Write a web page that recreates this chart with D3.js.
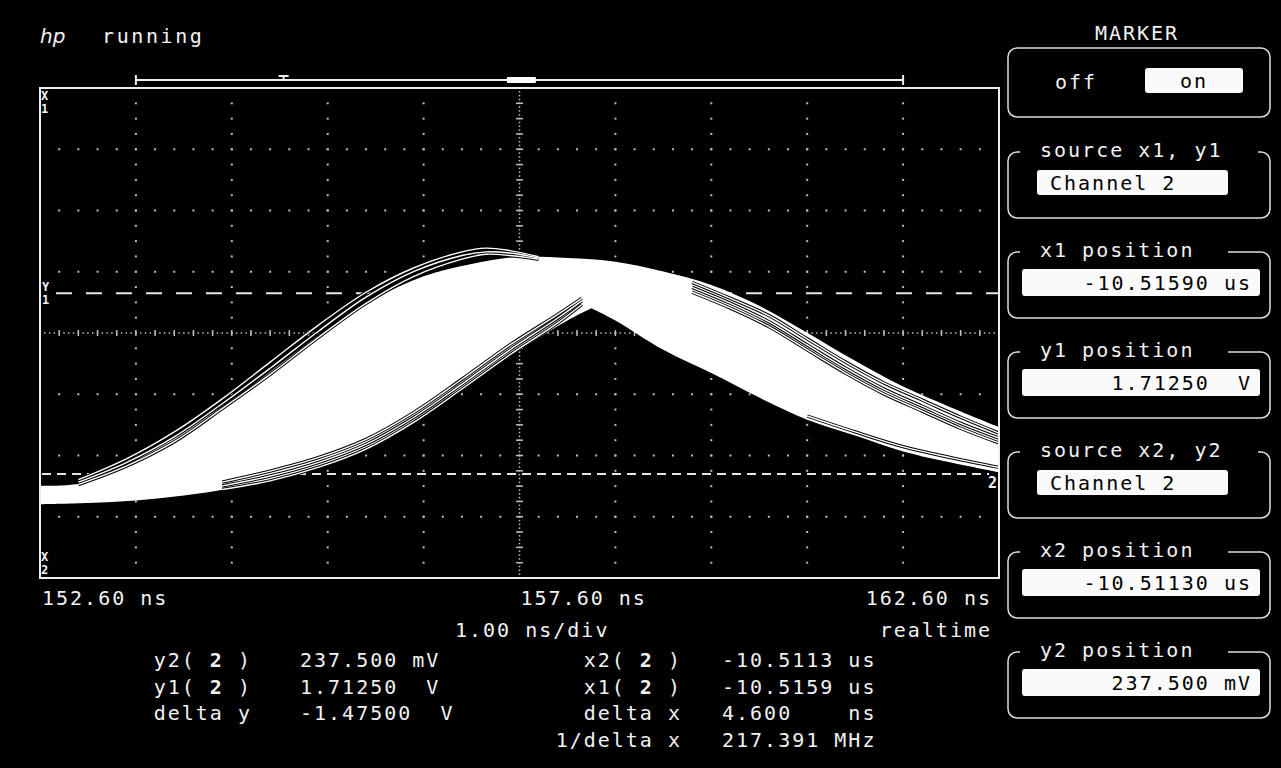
<!DOCTYPE html>
<html>
<head>
<meta charset="utf-8">
<script src="https://cdn.jsdelivr.net/npm/d3@7"></script>
<style>
  html, body { margin: 0; padding: 0; background: #000; }
  svg { display: block; }
  text { font-family: "DejaVu Sans Mono", monospace; fill: #f2f2f2; white-space: pre; }
</style>
</head>
<body>
<div id="scope"></div>
<script>
// ---- timebase / vertical settings ----
const startNs = 152.6, nsPerDiv = 1.0, xDivs = 10;
const centerVolts = 1.3875, voltsPerDiv = 0.5, yDivs = 8;
const timeLabels = ["152.60 ns", "157.60 ns", "162.60 ns"];
const y1Volts = 1.7125, y2Volts = 0.2375;

// ---- persistence envelope (ns, V) ----
const envTimes = [152.6, 153.1, 153.6, 154.1, 154.6, 155.1, 155.6, 156.1, 156.6, 157.1, 157.6,
                  158.1, 158.6, 159.1, 159.6, 160.1, 160.6, 161.1, 161.6, 162.1, 162.6];
const envUpper = [0.14, 0.17, 0.35, 0.59, 0.84, 1.13, 1.42, 1.67, 1.85, 1.95, 2.01,
                  2.00, 1.97, 1.89, 1.78, 1.61, 1.39, 1.16, 0.95, 0.78, 0.62];
const lowerRiseTimes = [152.6, 153.1, 153.6, 154.1, 154.6, 155.1, 155.6, 156.1, 156.6, 157.1, 157.6, 158.1, 158.35];
const lowerRise = [-0.01, 0.00, 0.02, 0.06, 0.12, 0.20, 0.32, 0.48, 0.72, 0.98, 1.25, 1.49, 1.59];
const lowerFallTimes = [158.35, 158.6, 159.1, 159.6, 160.1, 160.6, 161.1, 161.6, 162.1, 162.6];
const lowerFall = [1.59, 1.49, 1.25, 1.06, 0.86, 0.68, 0.55, 0.42, 0.33, 0.25];

// ---- stray traces around the band ----
const earlyTimes = [153.0, 153.5, 154.0, 154.5, 155.0, 155.5, 156.0, 156.5, 157.0, 157.25, 157.5, 157.8];
const earlyA = [0.19, 0.36, 0.58, 0.85, 1.15, 1.45, 1.72, 1.92, 2.05, 2.08, 2.06, 2.01];
const earlyB = [0.17, 0.33, 0.54, 0.81, 1.10, 1.40, 1.68, 1.89, 2.02, 2.05, 2.04, 2.00];
const earlyC = [0.15, 0.30, 0.50, 0.77, 1.05, 1.35, 1.63, 1.85, 1.99, 2.03, 2.02, 1.99];
const lateTimes = [154.5, 155.0, 155.5, 156.0, 156.5, 157.0, 157.5, 158.0, 158.25];
const lateD = [0.11, 0.18, 0.29, 0.44, 0.66, 0.93, 1.21, 1.47, 1.62];
const lateE = [0.14, 0.22, 0.33, 0.48, 0.70, 0.97, 1.25, 1.51, 1.65];
const lateF = [0.17, 0.26, 0.37, 0.52, 0.74, 1.01, 1.29, 1.54, 1.67];
const fallTimes = [159.4, 159.8, 160.2, 160.6, 161.0, 161.4, 161.8, 162.2, 162.6];
const fallG = [1.80, 1.67, 1.53, 1.34, 1.15, 0.98, 0.84, 0.70, 0.57];
const fallH = [1.76, 1.63, 1.48, 1.29, 1.10, 0.93, 0.79, 0.65, 0.53];
const fallI = [1.72, 1.59, 1.44, 1.25, 1.06, 0.89, 0.75, 0.61, 0.49];
const tailTimes = [160.6, 161.1, 161.6, 162.1, 162.6];
const tailJ = [0.71, 0.58, 0.46, 0.37, 0.29];

// ---- readouts ----
const leftNames = ["y2", "y1", "delta y"];
const leftValues = ["237.500 mV", "1.71250  V", "-1.47500  V"];
const rightNames = ["x2", "x1", "delta x", "1/delta x"];
const rightValues = ["-10.5113 us", "-10.5159 us", "4.600    ns", "217.391 MHz"];
const panelTitles = ["source x1, y1", "x1 position", "y1 position", "source x2, y2", "x2 position", "y2 position"];
const panelValues = ["Channel 2", "-10.51590 us", "1.71250  V", "Channel 2", "-10.51130 us", "237.500 mV"];

const W = 1281, H = 768;
const svg = d3.select("#scope").append("svg").attr("width", W).attr("height", H);
svg.append("rect").attr("width", W).attr("height", H).attr("fill", "#000");

const plot = { left: 40, top: 88, right: 999, bottom: 578 };
const x = d3.scaleLinear().domain([startNs, startNs + xDivs * nsPerDiv]).range([plot.left, plot.right]);
const yMin = centerVolts - voltsPerDiv * yDivs / 2;
const y = d3.scaleLinear().domain([yMin, yMin + voltsPerDiv * yDivs]).range([plot.bottom, plot.top]);

// header
svg.append("text").attr("x", 40).attr("y", 43).text("hp")
  .style("font-family", "DejaVu Sans").style("font-style", "italic").style("font-size", "20px");
svg.append("text").attr("x", 102).attr("y", 43).text("running")
  .style("font-size", "20px").style("letter-spacing", "2.6px");

// record bar above the graticule
const bar = svg.append("g").attr("stroke", "#eee").attr("stroke-width", 2);
bar.append("line").attr("x1", x(153.6)).attr("x2", x(161.6)).attr("y1", 80).attr("y2", 80);
bar.append("line").attr("x1", x(153.6)).attr("x2", x(153.6)).attr("y1", 75).attr("y2", 85);
bar.append("line").attr("x1", x(161.6)).attr("x2", x(161.6)).attr("y1", 75).attr("y2", 85);
bar.append("line").attr("x1", x(155.14) - 5).attr("x2", x(155.14) + 5).attr("y1", 76).attr("y2", 76);
bar.append("line").attr("x1", x(155.14)).attr("x2", x(155.14)).attr("y1", 76).attr("y2", 80);
svg.append("rect").attr("x", x(157.47)).attr("y", 77).attr("width", x(157.77) - x(157.47)).attr("height", 6).attr("fill", "#fff");

// graticule dots
const grid = svg.append("g").attr("fill", "#bdbdbd");
const vMinor = d3.range(1, yDivs * 4).map(k => yMin + k * voltsPerDiv / 4);
const hMinor = d3.range(1, xDivs * 5).map(k => startNs + k * nsPerDiv / 5);
d3.range(1, xDivs).filter(i => i !== xDivs / 2).forEach(i => {
  const gx = x(startNs + i * nsPerDiv);
  grid.selectAll(null).data(vMinor).join("rect")
    .attr("x", gx - 1).attr("y", d => y(d) - 1).attr("width", 2).attr("height", 2);
});
d3.range(1, yDivs).filter(j => j !== yDivs / 2).forEach(j => {
  const gy = y(yMin + j * voltsPerDiv);
  grid.selectAll(null).data(hMinor).join("rect")
    .attr("x", d => x(d) - 1).attr("y", gy - 1).attr("width", 2).attr("height", 2);
});
// centre axes, denser with ticks
const cy = y(centerVolts), cx = x(startNs + nsPerDiv * xDivs / 2);
grid.selectAll(null).data(d3.range(1, xDivs * 20).map(k => startNs + k * nsPerDiv / 20)).join("rect")
  .attr("x", d => x(d) - 0.75).attr("y", cy - 0.75).attr("width", 1.5).attr("height", 1.5);
grid.selectAll(null).data(hMinor).join("rect")
  .attr("x", d => x(d) - 0.75).attr("y", cy - 3).attr("width", 1.5).attr("height", 6);
grid.selectAll(null).data(d3.range(1, yDivs * 16).map(k => yMin + k * voltsPerDiv / 16)).join("rect")
  .attr("x", cx - 0.75).attr("y", d => y(d) - 0.75).attr("width", 1.5).attr("height", 1.5);
grid.selectAll(null).data(vMinor).join("rect")
  .attr("x", cx - 3.5).attr("y", d => y(d) - 0.75).attr("width", 7).attr("height", 1.5);

// marker lines
svg.append("line").attr("x1", 56).attr("x2", plot.right).attr("y1", y(y1Volts)).attr("y2", y(y1Volts))
  .attr("stroke", "#e6e6e6").attr("stroke-width", 2).attr("stroke-dasharray", "16,14");
svg.append("line").attr("x1", plot.left + 2).attr("x2", plot.right - 10).attr("y1", y(y2Volts)).attr("y2", y(y2Volts))
  .attr("stroke", "#e6e6e6").attr("stroke-width", 2).attr("stroke-dasharray", "9,6");

// waveform
svg.append("clipPath").attr("id", "clip").append("rect")
  .attr("x", plot.left).attr("y", plot.top).attr("width", plot.right - plot.left).attr("height", plot.bottom - plot.top);
const wave = svg.append("g").attr("clip-path", "url(#clip)");
const zip = (t, v) => t.map((d, i) => [d, v[i]]);
const line = d3.line().x(d => x(d[0])).y(d => y(d[1])).curve(d3.curveCatmullRom.alpha(0.5));

const bandPath = line(zip(envTimes, envUpper))
  + line(zip(lowerFallTimes, lowerFall).reverse()).replace(/^M/, "L")
  + line(zip(lowerRiseTimes, lowerRise).reverse()).replace(/^M/, "L") + "Z";
wave.append("path").attr("d", bandPath).attr("fill", "#fff");

const traces = [
  zip(earlyTimes, earlyA), zip(earlyTimes, earlyB), zip(earlyTimes, earlyC),
  zip(lateTimes, lateD), zip(lateTimes, lateE), zip(lateTimes, lateF),
  zip(fallTimes, fallG), zip(fallTimes, fallH), zip(fallTimes, fallI),
  zip(tailTimes, tailJ)
];
wave.selectAll(".halo").data(traces).join("path").attr("class", "halo")
  .attr("d", line).attr("fill", "none").attr("stroke", "#000").attr("stroke-width", 3.4);
wave.selectAll(".trace").data(traces).join("path").attr("class", "trace")
  .attr("d", line).attr("fill", "none").attr("stroke", "#fff").attr("stroke-width", 1.4);

// frame
svg.append("rect").attr("x", plot.left).attr("y", plot.top)
  .attr("width", plot.right - plot.left).attr("height", plot.bottom - plot.top)
  .attr("fill", "none").attr("stroke", "#eee").attr("stroke-width", 2);

// marker tags on the graticule
function tag(xp, yTop, a, b) {
  const t = svg.append("text").attr("x", xp).style("font-size", "12px").style("font-weight", "bold");
  t.append("tspan").attr("x", xp).attr("y", yTop).text(a);
  t.append("tspan").attr("x", xp).attr("y", yTop + 13).text(b);
}
tag(41, 100, "X", "1");
tag(42, 291, "Y", "1");
tag(41, 561, "X", "2");
svg.append("text").attr("x", 988).attr("y", 488).text("2").style("font-size", "15px").style("font-weight", "bold");

// time labels
const small = s => s.style("font-size", "20px").style("letter-spacing", "2px");
svg.append("text").attr("x", plot.left + 2).attr("y", 605).text(timeLabels[0]).call(small);
svg.append("text").attr("x", cx + 1).attr("y", 605).text(timeLabels[1]).call(small);
svg.append("text").attr("x", 992).attr("y", 605).attr("text-anchor", "end").text(timeLabels[2]).call(small);
svg.append("text").attr("x", 455).attr("y", 637).text("1.00 ns/div").call(small);
svg.append("text").attr("x", 992).attr("y", 637).attr("text-anchor", "end").text("realtime").call(small);

// readout block
const rowY = [667, 694, 720, 747];
function nameText(xp, yp, name) {
  const t = svg.append("text").attr("x", xp).attr("y", yp).attr("text-anchor", "end").call(small);
  if (name.includes(" ")) { t.text(name); return; }
  t.append("tspan").text(name + "( ");
  t.append("tspan").style("font-weight", "bold").text("2");
  t.append("tspan").text(" )");
}
leftNames.forEach((n, i) => {
  nameText(252, rowY[i], n);
  svg.append("text").attr("x", 300).attr("y", rowY[i]).text(leftValues[i]).call(small);
});
rightNames.forEach((n, i) => {
  nameText(682, rowY[i], n);
  svg.append("text").attr("x", 722).attr("y", rowY[i]).text(rightValues[i]).call(small);
});

// right-hand softkey panel
const panel = svg.append("g");
panel.append("text").attr("x", 1137).attr("y", 40).attr("text-anchor", "middle").text("MARKER").call(small);
panel.append("rect").attr("x", 1008).attr("y", 48).attr("width", 262).attr("height", 69).attr("rx", 9)
  .attr("fill", "none").attr("stroke", "#ddd").attr("stroke-width", 1.5);
panel.append("text").attr("x", 1055).attr("y", 89).text("off").call(small);
panel.append("rect").attr("x", 1145).attr("y", 68).attr("width", 98).attr("height", 25).attr("rx", 3).attr("fill", "#fafafa");
panel.append("text").attr("x", 1194).attr("y", 88).attr("text-anchor", "middle").text("on").call(small).style("fill", "#000");

const boxTops = [152, 252, 352, 452, 552, 652];
panelTitles.forEach((title, i) => {
  const top = boxTops[i], isSource = title.startsWith("source");
  panel.append("rect").attr("x", 1008).attr("y", top).attr("width", 262).attr("height", 66).attr("rx", 9)
    .attr("fill", "none").attr("stroke", "#ddd").attr("stroke-width", 1.5);
  panel.append("rect").attr("x", 1020).attr("y", top - 4)
    .attr("width", isSource ? 238 : 208).attr("height", 8).attr("fill", "#000");
  panel.append("text").attr("x", 1040).attr("y", top + 5).text(title).call(small);
  if (isSource) {
    panel.append("rect").attr("x", 1037).attr("y", top + 18).attr("width", 191).attr("height", 25).attr("rx", 3).attr("fill", "#fafafa");
    panel.append("text").attr("x", 1050).attr("y", top + 38).text(panelValues[i]).call(small).style("fill", "#000");
  } else {
    panel.append("rect").attr("x", 1022).attr("y", top + 17).attr("width", 238).attr("height", 27).attr("rx", 3).attr("fill", "#fafafa");
    panel.append("text").attr("x", 1252).attr("y", top + 38).attr("text-anchor", "end").text(panelValues[i]).call(small).style("fill", "#000");
  }
});
</script>
</body>
</html>
